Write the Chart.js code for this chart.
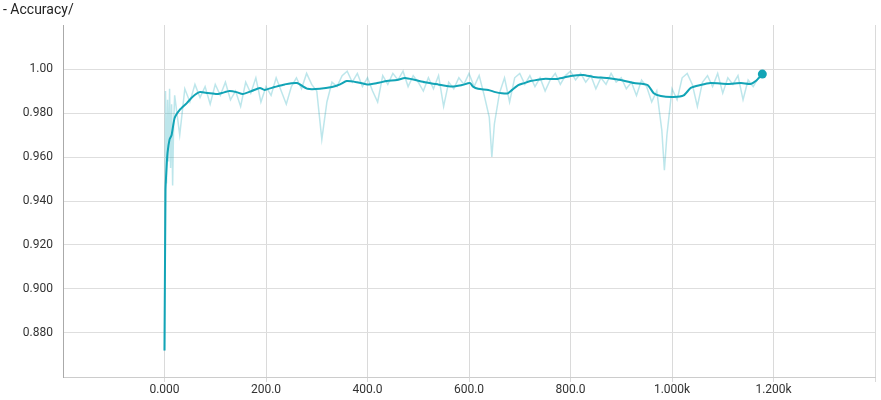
<!DOCTYPE html>
<html>
<head>
<meta charset="utf-8">
<script src="https://cdn.jsdelivr.net/npm/chart.js@4.4.0/dist/chart.umd.min.js"></script>
<style>
  body { margin: 0; background: #fff; }
  #wrap { position: relative; width: 881px; height: 400px; }
  #title { position: absolute; left: 3px; top: 0px; font-family: Roboto, sans-serif; font-size: 14px; color: #222; line-height: 18px; }
</style>
</head>
<body>
<div id="wrap">
  <div id="title">- Accuracy/</div>
  <canvas id="myChart" width="881" height="400"></canvas>
</div>
<script>
// data

const rawSteps = [0, 2, 4, 6, 8, 10, 12, 14, 16, 18, 20, 30, 40, 50, 60, 70, 80, 90, 100,
  110, 120, 130, 140, 150, 160, 170, 180, 190, 200, 210, 220, 230, 240, 250, 260, 270, 280, 290, 300,
  310, 320, 330, 340, 350, 360, 370, 380, 390, 400, 410, 420, 430, 440, 450, 460, 470, 480, 490, 500,
  510, 520, 530, 540, 550, 560, 570, 580, 590, 600, 610, 620, 630, 640, 645, 650, 660, 670, 680, 690, 700,
  710, 720, 730, 740, 750, 760, 770, 780, 790, 800, 810, 820, 830, 840, 850, 860, 870, 880, 890, 900,
  910, 920, 930, 940, 950, 960, 970, 980, 985, 990, 1000, 1010, 1020, 1030, 1040, 1050, 1060, 1070, 1080,
  1090, 1100, 1110, 1120, 1130, 1140, 1150, 1160, 1170, 1178];

const rawValues = [0.872, 0.990, 0.948, 0.986, 0.958, 0.991, 0.955, 0.984, 0.947, 0.975, 0.988, 0.970, 0.991, 0.985, 0.993, 0.987, 0.992, 0.984, 0.993,
  0.988, 0.994, 0.986, 0.990, 0.983, 0.994, 0.989, 0.996, 0.985, 0.992, 0.988, 0.996, 0.990, 0.984, 0.992, 0.996, 0.991, 0.998, 0.993, 0.990,
  0.968, 0.985, 0.994, 0.992, 0.997, 0.999, 0.994, 0.998, 0.992, 0.996, 0.990, 0.985, 0.997, 0.993, 0.998, 0.995, 0.999, 0.992, 0.997, 0.994,
  0.990, 0.996, 0.991, 0.997, 0.983, 0.994, 0.991, 0.996, 0.993, 0.998, 0.992, 0.997, 0.988, 0.978, 0.960, 0.975, 0.989, 0.996, 0.985, 0.996, 0.998,
  0.993, 0.997, 0.992, 0.996, 0.990, 0.995, 0.998, 0.993, 0.997, 0.999, 0.995, 0.998, 0.994, 0.997, 0.991, 0.996, 0.993, 0.998, 0.994, 0.996,
  0.991, 0.994, 0.988, 0.995, 0.992, 0.985, 0.990, 0.972, 0.954, 0.970, 0.991, 0.986, 0.996, 0.998, 0.993, 0.983, 0.994, 0.997, 0.992,
  0.998, 0.989, 0.996, 0.993, 0.997, 0.986, 0.995, 0.992, 0.996, 0.998];

const smoothSteps = [0, 2, 4, 6, 10, 14, 20, 30, 44, 55, 69, 85, 103, 113, 128, 142, 154, 172, 188, 197,
  217, 237, 261, 282, 306, 330, 346, 359, 379, 399, 419, 438, 458, 474, 494, 513, 539, 567, 586, 602,
  608, 618, 638, 652, 665, 677, 685, 697, 709, 721, 747, 774, 800, 825, 845, 873, 899, 925, 952, 964,
  978, 1003, 1023, 1037, 1056, 1076, 1110, 1136, 1155, 1165, 1178];

const smoothValues = [0.872, 0.945, 0.955, 0.962, 0.968, 0.970, 0.9777, 0.9814, 0.9845, 0.9873, 0.9895, 0.9891, 0.9886, 0.9891, 0.990, 0.9895, 0.9886, 0.990, 0.9914, 0.9905,
  0.9918, 0.993, 0.9936, 0.991, 0.991, 0.9918, 0.993, 0.9945, 0.994, 0.993, 0.9936, 0.9945, 0.995, 0.9959, 0.995, 0.994, 0.993, 0.992, 0.9927, 0.9936,
  0.992, 0.991, 0.9905, 0.9895, 0.989, 0.989, 0.9905, 0.9927, 0.9936, 0.9945, 0.9955, 0.9955, 0.9968, 0.9973, 0.9964, 0.9959, 0.995, 0.9936, 0.9927, 0.989,
  0.9877, 0.9873, 0.988, 0.9914, 0.9927, 0.9936, 0.9932, 0.9936, 0.9932, 0.9945, 0.9977];

const yTicks = [0.88, 0.90, 0.92, 0.94, 0.96, 0.98, 1.00];
const xTicks = [0, 200, 400, 600, 800, 1000, 1200];

function xLabel(v) {
  if (v >= 1000) return (v / 1000).toFixed(3) + 'k';
  if (v === 0) return '0.000';
  return v.toFixed(1);
}

function yLabel(v) {
  if (v === 1) return '1.00';
  return v.toFixed(3);
}

const teal = 'rgb(18, 164, 182)';

const data = {
  datasets: [
    {
      label: 'smoothed',
      data: smoothSteps.map((s, i) => ({ x: s, y: smoothValues[i] })),
      borderColor: teal,
      backgroundColor: teal,
      borderWidth: 2,
      pointRadius: ctx => (ctx.dataIndex === smoothSteps.length - 1 ? 4.5 : 0),
      pointBorderWidth: 0,
      tension: 0.2,
    },
    {
      label: 'raw',
      data: rawSteps.map((s, i) => ({ x: s, y: rawValues[i] })),
      borderColor: 'rgba(18, 164, 182, 0.28)',
      borderWidth: 1.5,
      pointRadius: 0,
      tension: 0,
    },
  ],
};

const config = {
  type: 'line',
  data,
  options: {
    responsive: false,
    animation: false,
    devicePixelRatio: 1,
    layout: { padding: { top: 25, right: 6, left: 0, bottom: 0 } },
    plugins: {
      legend: { display: false },
      tooltip: { enabled: false },
    },
    scales: {
      x: {
        type: 'linear',
        min: -200,
        max: 1400,
        afterBuildTicks: scale => {
          scale.ticks = [-200].concat(xTicks, [1400]).map(v => ({ value: v }));
        },
        afterFit: scale => { scale.height = 23; },
        grid: {
          color: ctx => (ctx.tick && (ctx.tick.value === -200) ? 'rgba(0,0,0,0)' : '#dadada'),
          tickLength: 5,
        },
        border: { color: '#cccccc' },
        ticks: {
          padding: 1,
          color: '#333',
          font: { family: 'Roboto', size: 12 },
          maxRotation: 0,
          autoSkip: false,
          callback: v => (xTicks.includes(v) ? xLabel(v) : ''),
        },
      },
      y: {
        min: 0.86,
        max: 1.02,
        afterBuildTicks: scale => {
          scale.ticks = [0.86].concat(yTicks, [1.02]).map(v => ({ value: v }));
        },
        afterFit: scale => { scale.width = 63; },
        grid: {
          color: ctx => (ctx.tick && Math.abs(ctx.tick.value - 1.02) < 1e-6 ? 'rgba(0,0,0,0)' : '#dedede'),
          drawTicks: false,
        },
        border: { color: '#aaaaaa' },
        ticks: {
          padding: 10,
          color: '#333',
          font: { family: 'Roboto', size: 12 },
          autoSkip: false,
          callback: v => {
            const r = Math.round(v * 100) / 100;
            return yTicks.some(t => Math.abs(t - r) < 1e-6) ? yLabel(r) : '';
          },
        },
      },
    },
  },
};

const myChart = new Chart(document.getElementById('myChart'), config);
</script>
</body>
</html>
